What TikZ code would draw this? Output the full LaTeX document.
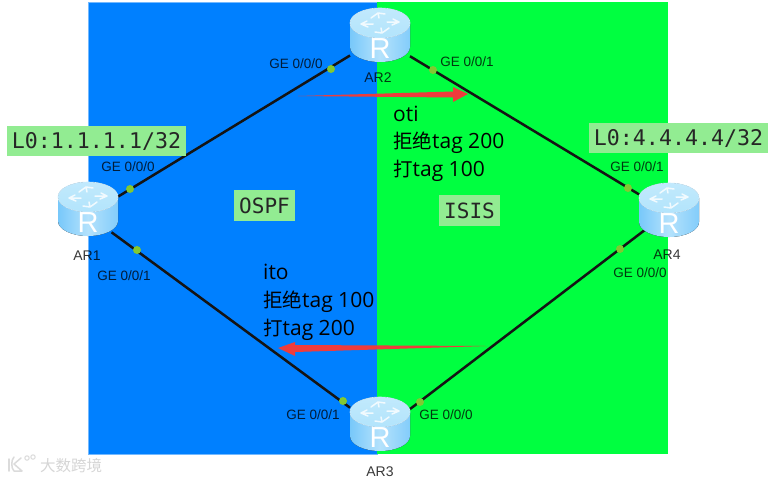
\documentclass[tikz,border=0pt]{standalone}
\usepackage{fontspec}
\setmainfont{Liberation Sans}
\newfontfamily\cjkf{Noto Sans CJK SC}
\newfontfamily\latf{Open Sans}
\newfontfamily\monof{DejaVu Sans Mono}
\definecolor{bluebg}{RGB}{0,128,255}
\definecolor{greenbg}{RGB}{0,255,64}
\definecolor{lbl}{RGB}{146,236,146}
\definecolor{dotc}{RGB}{130,200,50}
\definecolor{redarrow}{RGB}{238,60,60}
\definecolor{rtop}{RGB}{178,228,252}
\definecolor{rside}{RGB}{120,200,250}
\definecolor{rsidelight}{RGB}{180,226,252}
\tikzset{
 x=1pt,y=-1pt,
 link/.style={line width=2.5pt,black!92},
 pdot/.style={circle,fill=dotc,inner sep=0,minimum size=8pt},
 ge/.style={font=\fontsize{13.5}{15}\selectfont,text=black,text opacity=.78,inner sep=0},
 arname/.style={font=\fontsize{14}{15}\selectfont,text=black,text opacity=.78,inner sep=0},
 rbox/.style={inner sep=0,outer sep=0,minimum width=60pt,minimum height=54pt},
 netlabel/.style={fill=lbl,font=\monof\fontsize{21.6}{24}\selectfont,inner sep=0,minimum width=179pt,minimum height=30pt,text=black!85},
 arealabel/.style={fill=lbl,font=\monof\fontsize{21}{24}\selectfont,inner sep=0,minimum width=61pt,minimum height=31pt,text=black!85},
 policy/.style={font=\latf\fontsize{21}{27.7}\selectfont,align=left,inner sep=0,anchor=north west,text=black},
 wmark/.style={line width=1.5pt,draw=black!14,line cap=round,line join=round},
}
\newcommand{\cj}[1]{{\cjkf\fontsize{19.5}{27.7}\selectfont #1}}
\newcommand{\routerart}[1]{%
 \begin{scope}[shift={(#1)}]
  \fill[left color=rside,right color=rside!92!white,middle color=rsidelight] (-30,-13) -- (-30,11) arc[x radius=30,y radius=15,start angle=180,end angle=0] -- (30,-13) -- cycle;
  \fill[top color=rtop!80!white,bottom color=rtop,draw=rsidelight!70!white,line width=.6pt] (0,-13) ellipse[x radius=30,y radius=15];
  \begin{scope}[white,line width=1.5pt,opacity=.8,line cap=round]
   \draw (-19,-12)--(-7,-12) (-19,-12)--(-13,-15) (-19,-12)--(-12,-9);
   \draw (19,-14)--(7,-14) (19,-14)--(13,-17) (19,-14)--(12,-11);
   \draw (-2,-23)--(-9,-18) (-2,-23)--(5,-22) (-2,-23)--(-1,-18);
   \draw (2,-3)--(9,-8) (2,-3)--(-5,-4) (2,-3)--(1,-8);
  \end{scope}
  \node[text=white,font=\fontsize{29}{30}\selectfont,inner sep=0] at (0,13) {R};
 \end{scope}}
\begin{document}
\begin{tikzpicture}
\useasboundingbox (0,0) rectangle (775,480);
\fill[white] (0,0) rectangle (775,480);
\fill[bluebg,draw=bluebg!55!white,line width=.6pt] (88,2) rectangle (377,454);
\fill[greenbg] (377,2) rectangle (668,454);
% router anchors
\node[rbox] (r1) at (88,210) {};
\node[rbox] (r2) at (380,36) {};
\node[rbox] (r3) at (380,425) {};
\node[rbox] (r4) at (669,211) {};
% links
\draw[link] (r1.24) -- (r2.213);
\draw[link] (r2.-34) -- (r4.151);
\draw[link,shorten <=-8pt] (r1.-42) -- (r3.150);
\draw[link,shorten >=-8pt] (r3.28) -- (r4.218);
% routers
\routerart{r1}\routerart{r2}\routerart{r3}\routerart{r4}
% port dots
\node[pdot] (d1) at (130,189) {};
\node[pdot] (d2) at (137,250) {};
\node[pdot] (d3) at (331,69) {};
\node[pdot] (d4) at (433,70) {};
\node[pdot] (d5) at (628,188) {};
\node[pdot] (d6) at (620,249) {};
\node[pdot] (d7) at (343,401) {};
\node[pdot] (d8) at (420,402) {};
% port labels
\node[ge] (g1) at (128,167) {GE 0/0/0};
\node[ge] (g2) at (124,276) {GE 0/0/1};
\node[ge] (g3) at (296,64) {GE 0/0/0};
\node[ge] (g4) at (467,62) {GE 0/0/1};
\node[ge] (g5) at (637,167) {GE 0/0/1};
\node[ge] (g6) at (640,273) {GE 0/0/0};
\node[ge] (g7) at (313,415) {GE 0/0/1};
\node[ge] (g8) at (446,415) {GE 0/0/0};
% router names
\node[arname] (n1) at (87,256) {AR1};
\node[arname] (n2) at (378,78) {AR2};
\node[arname] (n3) at (380,472) {AR3};
\node[arname] (n4) at (667,255) {AR4};
% address and area labels
\node[netlabel] (l1) at (96.5,141) {L0:1.1.1.1/32};
\node[netlabel] (l4) at (678.5,138) {L0:4.4.4.4/32};
\node[arealabel] (ospf) at (264.5,205.5) {OSPF};
\node[arealabel] (isis) at (469.5,210.5) {ISIS};
% policies
\node[policy] (p1) at (393,105.5) {oti\\\cj{拒绝}tag 200\\\cj{打}tag 100};
\node[policy] (p2) at (263,264) {ito\\\cj{拒绝}tag 100\\\cj{打}tag 200};
% arrows
\fill[redarrow] (298,96) -- (453,91.5) -- (453,87) -- (468,94) -- (453,102) -- (453,97.5) -- cycle;
\fill[redarrow] (487,346) -- (295,345) -- (295,342) -- (278,348) -- (295,356) -- (295,352) -- cycle;
% watermark
\node[font=\cjkf\fontsize{15.5}{16}\selectfont,text=black!16,inner sep=0] (wm) at (71,466) {大数跨境};
\draw[wmark] (9,459) -- (9,471);
\draw[wmark] (21,458) -- (14,464) -- (22,471) -- (14,471) .. controls (11,468) and (11,460) .. (14,457);
\draw[black!14,line width=1pt] (27,458) circle[radius=2.2] (33,457) circle[radius=2.2];
\end{tikzpicture}
\end{document}
